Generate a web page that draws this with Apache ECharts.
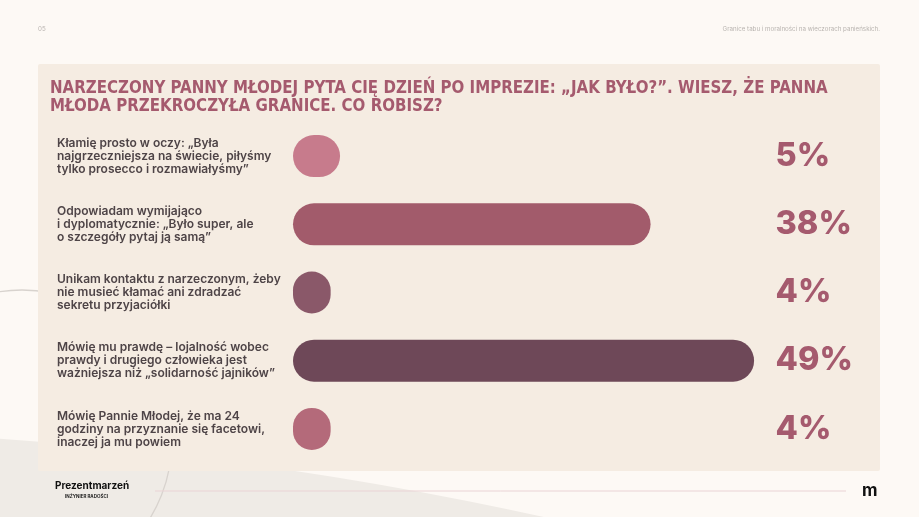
<!DOCTYPE html>
<html>
<head>
<meta charset="utf-8">
<script src="https://cdn.jsdelivr.net/npm/echarts@6/dist/echarts.min.js"></script>
<style>
  html, body { margin: 0; padding: 0; background: #fdf9f5; }
  #chart { width: 919px; height: 517px; }
</style>
</head>
<body>
<div id="chart"></div>
<script>
// dane z wykresu
var categories = [
    'Kłamię prosto w oczy: „Była\nnajgrzeczniejsza na świecie, piłyśmy\ntylko prosecco i rozmawiałyśmy”',
    'Odpowiadam wymijająco\ni dyplomatycznie: „Było super, ale\no szczegóły pytaj ją samą”',
    'Unikam kontaktu z narzeczonym, żeby\nnie musieć kłamać ani zdradzać\nsekretu przyjaciółki',
    'Mówię mu prawdę – lojalność wobec\nprawdy i drugiego człowieka jest\nważniejsza niż „solidarność jajników”',
    'Mówię Pannie Młodej, że ma 24\ngodziny na przyznanie się facetowi,\ninaczej ja mu powiem'
];
var values = [5, 38, 4, 49, 4];
var percentLabels = values.map(function (v) { return v + '%'; });
var barColors = ['#c77b8c', '#a25b6b', '#8a5869', '#6e4858', '#b46a7a'];

var titleText = 'NARZECZONY PANNY MŁODEJ PYTA CIĘ DZIEŃ PO IMPREZIE: „JAK BYŁO?”. WIESZ, ŻE PANNA\nMŁODA PRZEKROCZYŁA GRANICE. CO ROBISZ?';

var myChart = echarts.init(document.getElementById('chart'));

var option = {
    backgroundColor: '#fdf9f5',
    animation: false,
    graphic: [
        // szary kształt w tle (lewy dół)
        {
            type: 'circle', z: -10,
            shape: { cx: -253, cy: 4122, r: 3692 },
            style: { fill: '#efebe6' }
        },
        // cienki łuk
        {
            type: 'circle', z: -9,
            shape: { cx: 22, cy: 440, r: 150 },
            style: { fill: 'none', stroke: '#d8d3ce', lineWidth: 1.3 }
        },
        // panel
        {
            type: 'rect', z: -5,
            shape: { x: 38, y: 64, width: 842, height: 407, r: 2 },
            style: { fill: '#f5ece2' }
        },
        {
            type: 'text', left: 38, top: 26,
            style: { text: '05', fill: '#b9b4b0', fontSize: 6.2, fontFamily: 'Inter' }
        },
        {
            type: 'text', right: 39, top: 26,
            style: { text: 'Granice tabu i moralności na wieczorach panieńskich.', fill: '#b9b4b0', fontSize: 6.2, fontFamily: 'Inter' }
        },
        {
            type: 'text', x: 50, y: 79, scaleX: 0.956,
            style: {
                text: titleText, fill: '#a55a6e', fontSize: 17.5, lineHeight: 18.5,
                fontWeight: 'bold', fontFamily: '"Liberation Sans Narrow", "DejaVu Sans Condensed", Inter'
            }
        },
        // stopka
        {
            type: 'text', left: 55, top: 481,
            style: { text: 'Prezentmarzeń', fill: '#111', fontSize: 10, fontWeight: 'bold', fontFamily: 'Inter' }
        },
        {
            type: 'text', left: 65, top: 494,
            style: { text: 'INŻYNIER RADOŚCI', fill: '#222', fontSize: 4.5, fontWeight: 'bold', fontFamily: 'Inter' }
        },
        {
            type: 'line',
            shape: { x1: 155, y1: 491, x2: 846, y2: 491 },
            style: { stroke: '#ead3d5', lineWidth: 1 }
        },
        {
            type: 'text', left: 862, top: 482,
            style: { text: 'm', fill: '#111', fontSize: 17, fontWeight: 'bold', fontFamily: 'Inter' }
        }
    ],
    grid: {
        left: 293,
        right: 155.5,
        top: 122,
        bottom: 54
    },
    xAxis: {
        type: 'value',
        min: 0,
        max: 50,
        show: false
    },
    yAxis: [{
        type: 'category',
        data: categories,
        inverse: true,
        axisLine: { show: false },
        axisTick: { show: false },
        axisLabel: {
            align: 'left',
            margin: 236,
            color: '#4e4447',
            fontSize: 12,
            lineHeight: 13,
            padding: [3, 0, 0, 0],
            fontWeight: 600,
            fontFamily: 'Inter'
        }
    }, {
        type: 'category',
        data: percentLabels,
        inverse: true,
        position: 'right',
        axisLine: { show: false },
        axisTick: { show: false },
        axisLabel: {
            align: 'left',
            margin: 12,
            color: '#a55a6e',
            fontSize: 32.5,
            fontWeight: 800,
            fontFamily: 'Inter',
            padding: [2, 0, 0, 0]
        }
    }],
    series: [{
        type: 'bar',
        barWidth: 42,
        itemStyle: { borderRadius: 21 },
        data: values.map(function (v, i) {
            return { value: v, itemStyle: { color: barColors[i] } };
        })
    }]
};
myChart.setOption(option);
</script>
</body>
</html>
